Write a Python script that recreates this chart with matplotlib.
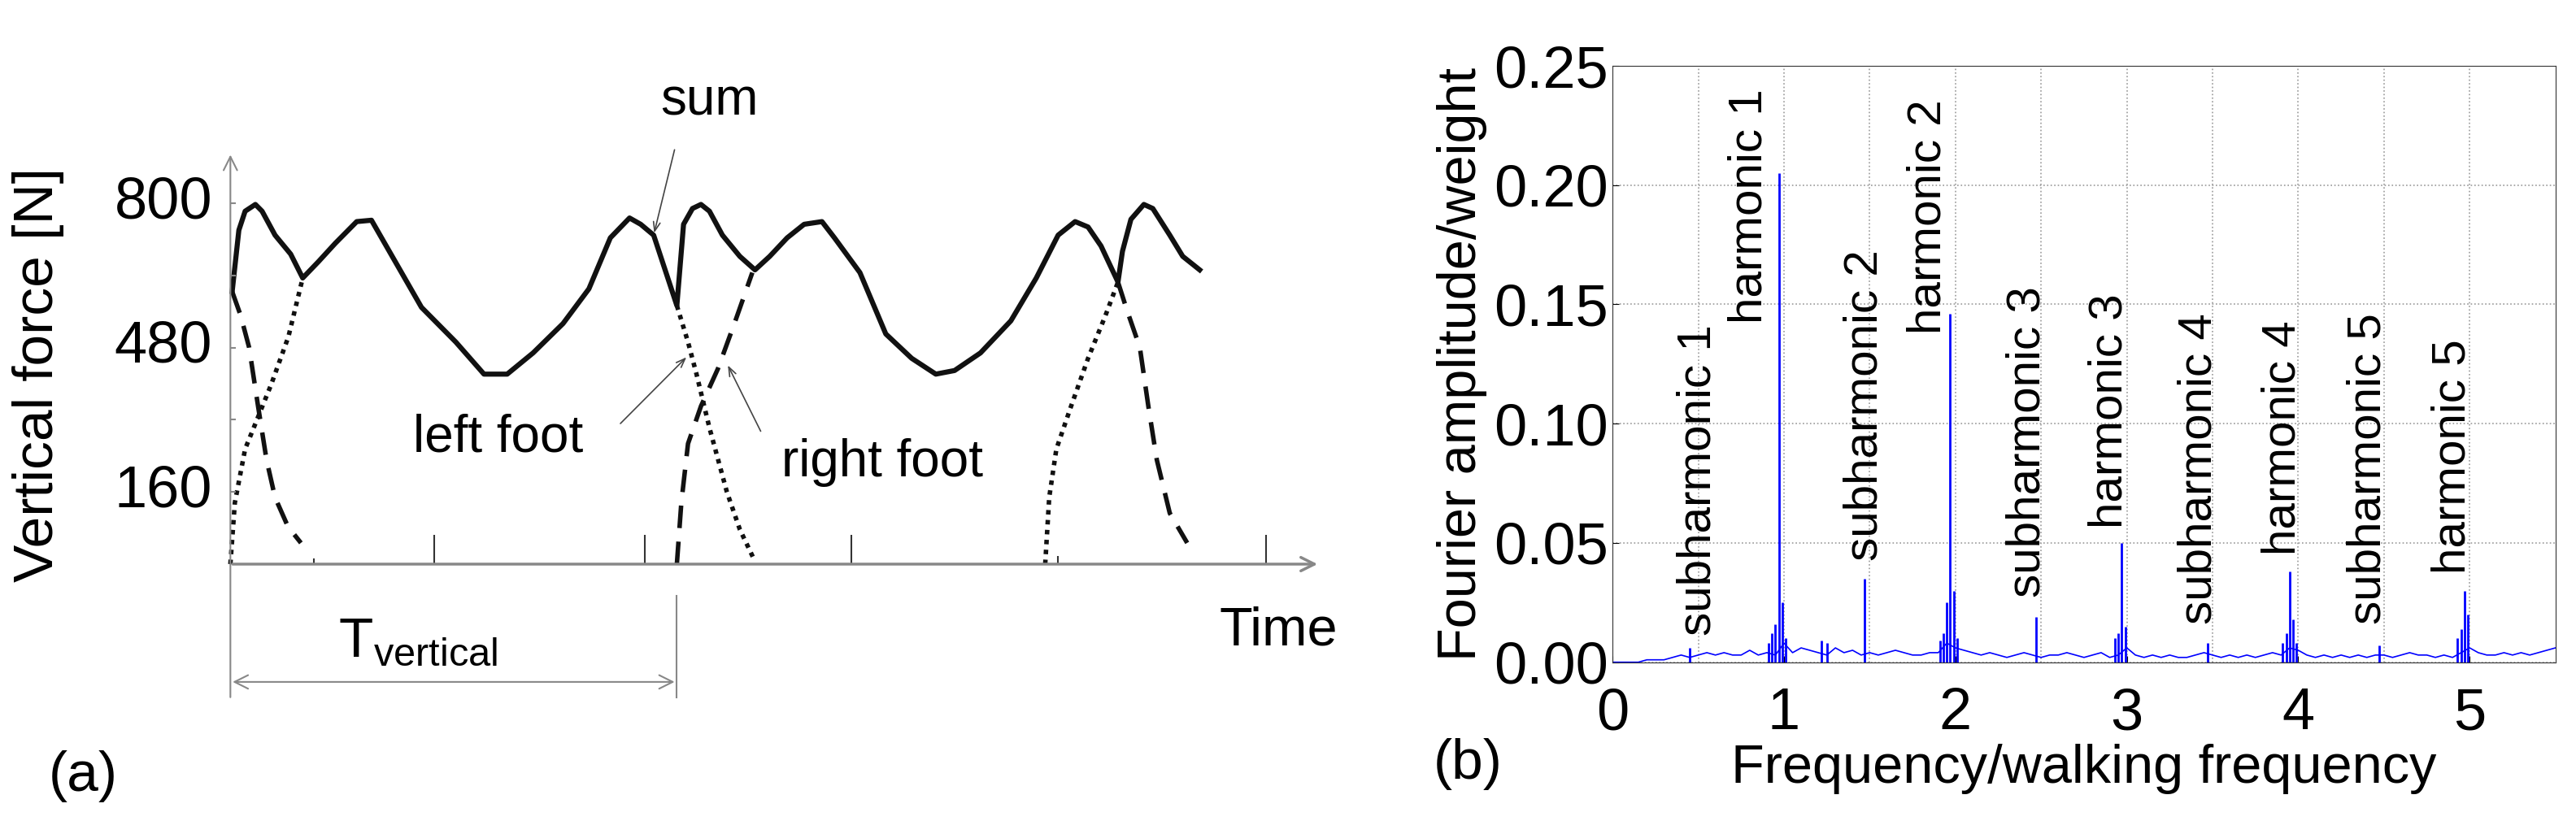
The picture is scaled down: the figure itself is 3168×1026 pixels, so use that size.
import numpy as np
import matplotlib
matplotlib.use("Agg")
from matplotlib import pyplot as plt

plt.rcParams['font.family'] = ['Liberation Sans', 'DejaVu Sans']

# --- panel (a): gait force, time in periods, force in N ---
sum_t = [0.004, 0.019, 0.033, 0.056, 0.071, 0.1, 0.135, 0.162, 0.197, 0.235, 0.283, 0.316,
         0.37, 0.428, 0.505, 0.568, 0.62, 0.678, 0.745, 0.803, 0.851, 0.894, 0.919, 0.948,
         1.0, 1.015, 1.035, 1.054, 1.073, 1.102, 1.141, 1.175, 1.208, 1.247, 1.285, 1.325,
         1.353, 1.41, 1.468, 1.526, 1.58, 1.622, 1.68, 1.748, 1.805, 1.854, 1.892, 1.921,
         1.95, 1.988, 1.998, 2.017, 2.046, 2.066, 2.104, 2.133, 2.171]
sum_f = [604, 740, 782, 797, 782, 729, 687, 634, 670, 711, 759, 762, 669, 569, 492, 421,
         421, 468, 533, 610, 723, 767, 753, 729, 573, 753, 788, 797, 782, 729, 682, 652,
         682, 723, 753, 759, 723, 646, 510, 456, 421, 429, 468, 539, 634, 729, 759, 747,
         705, 625, 693, 764, 797, 788, 729, 682, 652]
right_t = [[0.004, 0.023, 0.042, 0.062, 0.081, 0.1, 0.129, 0.158],
           [1.0, 1.01, 1.025, 1.054, 1.092, 1.131, 1.169],
           [1.988, 2.008, 2.037, 2.056, 2.075, 2.104, 2.143]]
right_f = [[604, 551, 480, 350, 231, 148, 83, 47],
           [0, 136, 267, 350, 433, 539, 646],
           [625, 563, 480, 350, 231, 113, 47]]
left_t = [[0.0, 0.01, 0.033, 0.062, 0.091, 0.13, 0.162],
          [1.0, 1.025, 1.044, 1.073, 1.112, 1.141, 1.175],
          [1.825, 1.834, 1.85, 1.883, 1.921, 1.96, 1.988]]
left_f = [[0, 136, 255, 326, 397, 504, 634],
          [573, 492, 421, 302, 160, 77, 6],
          [0, 148, 255, 350, 456, 551, 625]]
tick_t = [0.187, 0.457, 0.929, 1.391, 1.854, 2.32]
tick_h = [12, 65, 65, 65, 18, 65]

# --- panel (b): spectrum ---
floor_f = np.arange(0, 5.51, 0.05)
floor_a = [0.000, 0.000, 0.000, 0.000, 0.001, 0.001, 0.001, 0.002, 0.003, 0.002,
           0.003, 0.004, 0.003, 0.004, 0.003, 0.003, 0.005, 0.003, 0.004, 0.003,
           0.008, 0.004, 0.006, 0.005, 0.004, 0.003, 0.006, 0.004, 0.005, 0.003,
           0.004, 0.003, 0.004, 0.005, 0.004, 0.003, 0.003, 0.004, 0.004, 0.008,
           0.006, 0.005, 0.004, 0.003, 0.004, 0.003, 0.002, 0.003, 0.004, 0.003,
           0.002, 0.003, 0.003, 0.004, 0.003, 0.002, 0.003, 0.004, 0.002, 0.003,
           0.006, 0.003, 0.002, 0.003, 0.002, 0.003, 0.002, 0.002, 0.003, 0.004,
           0.003, 0.002, 0.003, 0.002, 0.003, 0.002, 0.003, 0.004, 0.003, 0.006,
           0.005, 0.003, 0.002, 0.003, 0.002, 0.003, 0.002, 0.003, 0.002, 0.003,
           0.003, 0.002, 0.003, 0.004, 0.003, 0.003, 0.002, 0.003, 0.002, 0.004,
           0.006, 0.004, 0.003, 0.003, 0.004, 0.003, 0.004, 0.003, 0.004, 0.005, 0.006]
peak_f = [0.45, 0.91, 0.93, 0.95, 0.97, 0.99, 1.01, 1.22, 1.25, 1.47, 1.91, 1.93, 1.95,
          1.97, 1.99, 2.01, 2.47, 2.93, 2.95, 2.97, 2.99, 3.47, 3.91, 3.93, 3.95, 3.97,
          3.99, 4.47, 4.93, 4.95, 4.97, 4.99]
peak_a = [0.006, 0.008, 0.012, 0.016, 0.205, 0.025, 0.010, 0.009, 0.008, 0.035, 0.009,
          0.012, 0.025, 0.146, 0.030, 0.010, 0.019, 0.010, 0.012, 0.050, 0.015, 0.008,
          0.008, 0.012, 0.038, 0.018, 0.008, 0.007, 0.010, 0.014, 0.030, 0.020]
labels = ["subharmonic 1", "harmonic 1", "subharmonic 2", "harmonic 2", "subharmonic 3",
          "harmonic 3", "subharmonic 4", "harmonic 4", "subharmonic 5", "harmonic 5"]
label_x = [0.50, 0.80, 1.47, 1.84, 2.42, 2.90, 3.42, 3.91, 4.41, 4.90]
label_y = [0.011, 0.142, 0.0425, 0.1375, 0.027, 0.056, 0.016, 0.045, 0.016, 0.037]

fig = plt.figure(figsize=(31.68, 10.26), dpi=100)

# ===== (a) =====
ax = fig.add_axes([0, 0, 1650 / 3168, 1])
ax.set_xlim(-0.516, 2.489)
ax.set_ylim(-598, 1250)
ax.axis('off')
ax.plot(sum_t, sum_f, color='#111111', lw=4.5)
for t, f in zip(right_t, right_f):
    ax.plot(t, f, color='#111111', lw=4, dashes=(5, 3))
for t, f in zip(left_t, left_f):
    ax.plot(t, f, color='#111111', lw=4, dashes=(1, 1.2))
grey = '#888888'
ax.annotate('', xy=(2.44, 0), xytext=(0, 0),
            arrowprops=dict(arrowstyle='->,head_width=0.6,head_length=1.2', color=grey, lw=2.5))
ax.annotate('', xy=(0, 912), xytext=(0, -300),
            arrowprops=dict(arrowstyle='->,head_width=0.6,head_length=1.2', color=grey, lw=1.5))
ax.vlines(tick_t, 0, tick_h, color='#333333', lw=1.5)
ax.hlines([160, 320, 480, 640, 800], 0, 0.012, color=grey, lw=1.5)
for v in [160, 480, 800]:
    ax.text(-0.04, v, str(v), ha='right', va='center', fontsize=52)
ax.text(-0.43, 420, 'Vertical force [N]', rotation=90, ha='center', va='center', fontsize=50)
ax.plot([1.0, 1.0], [-71, -296], color=grey, lw=1.5)
ax.annotate('', xy=(0, -261), xytext=(1.0, -261),
            arrowprops=dict(arrowstyle='<->,head_width=0.6,head_length=1.2', color=grey, lw=1.5))
ax.text(0.42, -205, r'T$_{\mathregular{vertical}}$', ha='center', va='baseline', fontsize=50)
ax.text(2.48, -180, 'Time', ha='right', va='baseline', fontsize=48)
ax.text(-0.33, -470, '(a)', ha='center', va='center', fontsize=50)
ax.text(1.073, 1025, 'sum', ha='center', va='center', fontsize=46)
ax.annotate('', xy=(0.948, 729), xytext=(0.996, 923),
            arrowprops=dict(arrowstyle='->,head_width=0.3,head_length=0.8', color='#444444', lw=1.2))
ax.text(0.6, 280, 'left foot', ha='center', va='center', fontsize=46)
ax.annotate('', xy=(1.025, 462), xytext=(0.87, 308),
            arrowprops=dict(arrowstyle='->,head_width=0.3,head_length=0.8', color='#444444', lw=1.2))
ax.text(1.46, 225, 'right foot', ha='center', va='center', fontsize=46)
ax.annotate('', xy=(1.112, 445), xytext=(1.19, 290),
            arrowprops=dict(arrowstyle='->,head_width=0.3,head_length=0.8', color='#444444', lw=1.2))

# ===== (b) =====
bx = fig.add_axes([0.626, 0.206, 0.366, 0.715])
bx.plot(floor_f, floor_a, color='blue', lw=1.2)
bx.vlines(peak_f, 0, peak_a, color='blue', lw=2)
bx.set_xlim(0, 5.5)
bx.set_ylim(0, 0.25)
bx.set_xticks([0, 1, 2, 3, 4, 5])
bx.set_yticks([0, 0.05, 0.10, 0.15, 0.20, 0.25])
bx.set_yticklabels(['0.00', '0.05', '0.10', '0.15', '0.20', '0.25'])
bx.set_xticks(np.arange(0.5, 5.5, 0.5), minor=True)
bx.tick_params(which='minor', length=0)
bx.grid(True, which='both', linestyle=':', color='#999999', lw=1.2)
bx.tick_params(labelsize=52, direction='in', length=6)
bx.tick_params(axis='x', pad=22)
bx.set_xlabel('Frequency/walking frequency', fontsize=48, labelpad=2)
bx.set_ylabel('Fourier amplitude/weight', fontsize=48, labelpad=6)
for s in bx.spines.values():
    s.set_color('#333333')
for x, y, s in zip(label_x, label_y, labels):
    bx.text(x, y, s, rotation=90, ha='center', va='bottom', fontsize=42)
fig.text(1805 / 3168, 1 - 940 / 1026, '(b)', ha='center', va='center', fontsize=50)

fig.savefig('out.png', dpi=100)
